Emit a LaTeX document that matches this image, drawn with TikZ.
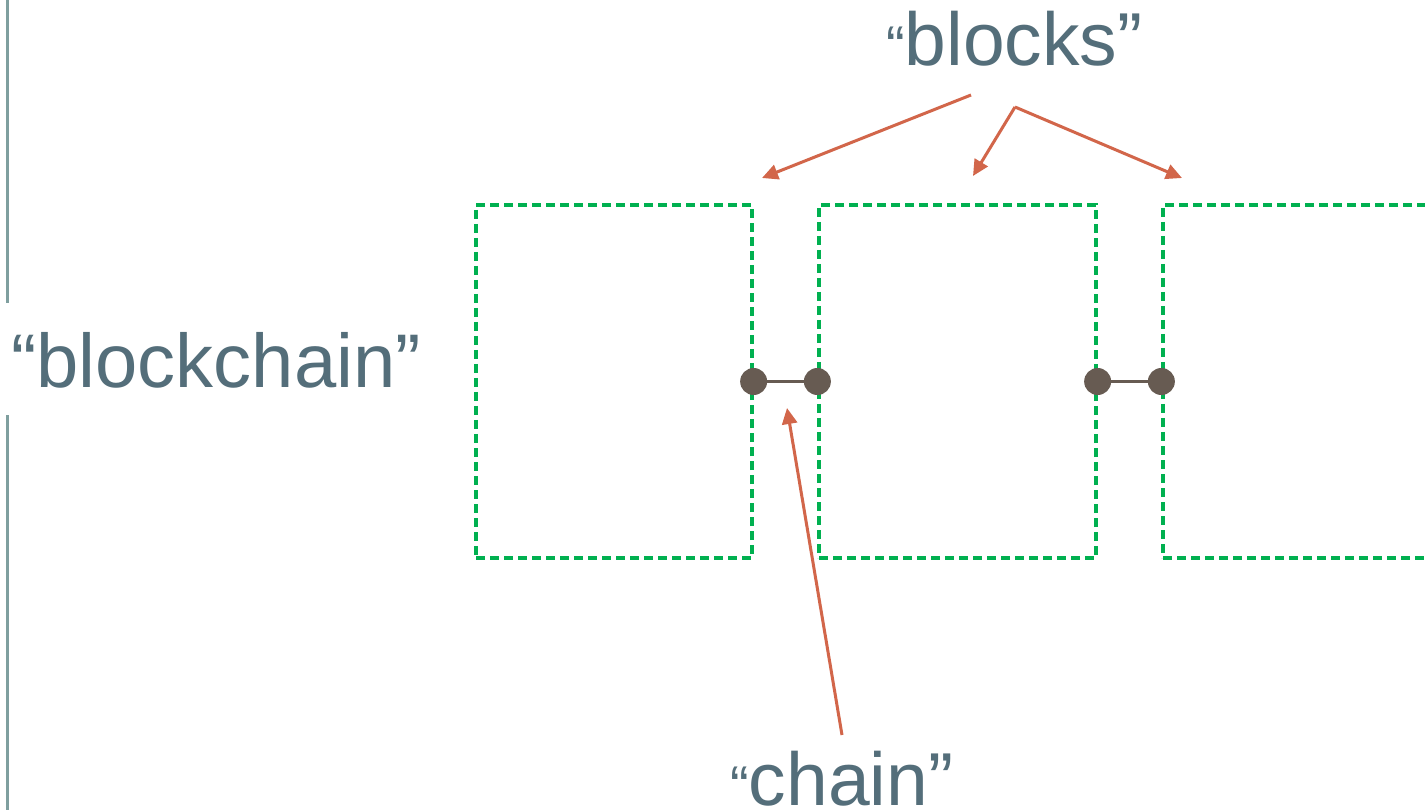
\documentclass[tikz,border=0pt]{standalone}
\usepackage{fontspec}
\setmainfont{Liberation Sans}
\usetikzlibrary{arrows.meta}
\definecolor{txtc}{HTML}{546E7A}
\definecolor{arrc}{HTML}{D2664A}
\definecolor{grn}{HTML}{00B050}
\definecolor{dotc}{HTML}{675B52}
\definecolor{barc}{HTML}{7F9F9F}
\tikzset{
  lbl/.style={inner sep=0pt, text=txtc, anchor=base west},
  blockbox/.style={draw=grn, line width=3.3pt, dash pattern=on 9pt off 5pt, minimum width=276pt, minimum height=353pt, inner sep=0pt},
  link/.style={circle, fill=dotc, minimum size=27pt, inner sep=0pt},
  linkline/.style={draw=dotc, line width=3.5pt},
  arr/.style={draw=arrc, line width=3pt, -{Triangle[length=16pt,width=15pt]}},
  bar/.style={draw=barc, line width=3pt}
}
\newcommand{\bigf}{\fontsize{75}{80}\selectfont}
\newcommand{\smallq}{\fontsize{56}{60}\selectfont}
\begin{document}
\begin{tikzpicture}[x=1pt,y=-1pt]
\useasboundingbox (0,0) rectangle (1425,810);
\clip (0,0) rectangle (1425,810);
\fill[white] (0,0) rectangle (1425,810);
% left bar
\coordinate (bar1a) at (7.5,0);
\coordinate (bar1b) at (7.5,303);
\coordinate (bar2a) at (7.5,415);
\coordinate (bar2b) at (7.5,810);
\draw[bar] (bar1a) -- (bar1b);
\draw[bar] (bar2a) -- (bar2b);
% labels
\node[lbl] (bc) at (11,388) {\fontsize{76}{80}\selectfont “blockchain”};
\node[lbl] (blocks) at (886,66) {{\smallq “}{\bigf blocks”}};
\node[lbl] (chain) at (730,805) {{\smallq “}{\bigf chain”}};
% blocks
\node[blockbox] (b1) at (614,381.5) {};
\node[blockbox, minimum width=277pt] (b2) at (957.5,381.5) {};
\node[blockbox, minimum width=277pt] (b3) at (1301.5,381.5) {};
% links
\node[link] (d1) at (b1.east) {};
\node[link] (d2) at (b2.west) {};
\node[link] (d3) at (b2.east) {};
\node[link] (d4) at (b3.west) {};
\draw[linkline] (d1) -- (d2);
\draw[linkline] (d3) -- (d4);
% arrows
\coordinate (a1s) at (971,95);
\coordinate (a1e) at (762,178);
\coordinate (fork) at (1015,107);
\coordinate (a2e) at (973,176);
\coordinate (a3e) at (1182,178);
\coordinate (a4s) at (842,735);
\coordinate (a4e) at (787,408);
\draw[arr] (a1s) -- (a1e);
\draw[arr] (fork) -- (a2e);
\draw[arr] (fork) -- (a3e);
\draw[arr] (a4s) -- (a4e);
\end{tikzpicture}
\end{document}
